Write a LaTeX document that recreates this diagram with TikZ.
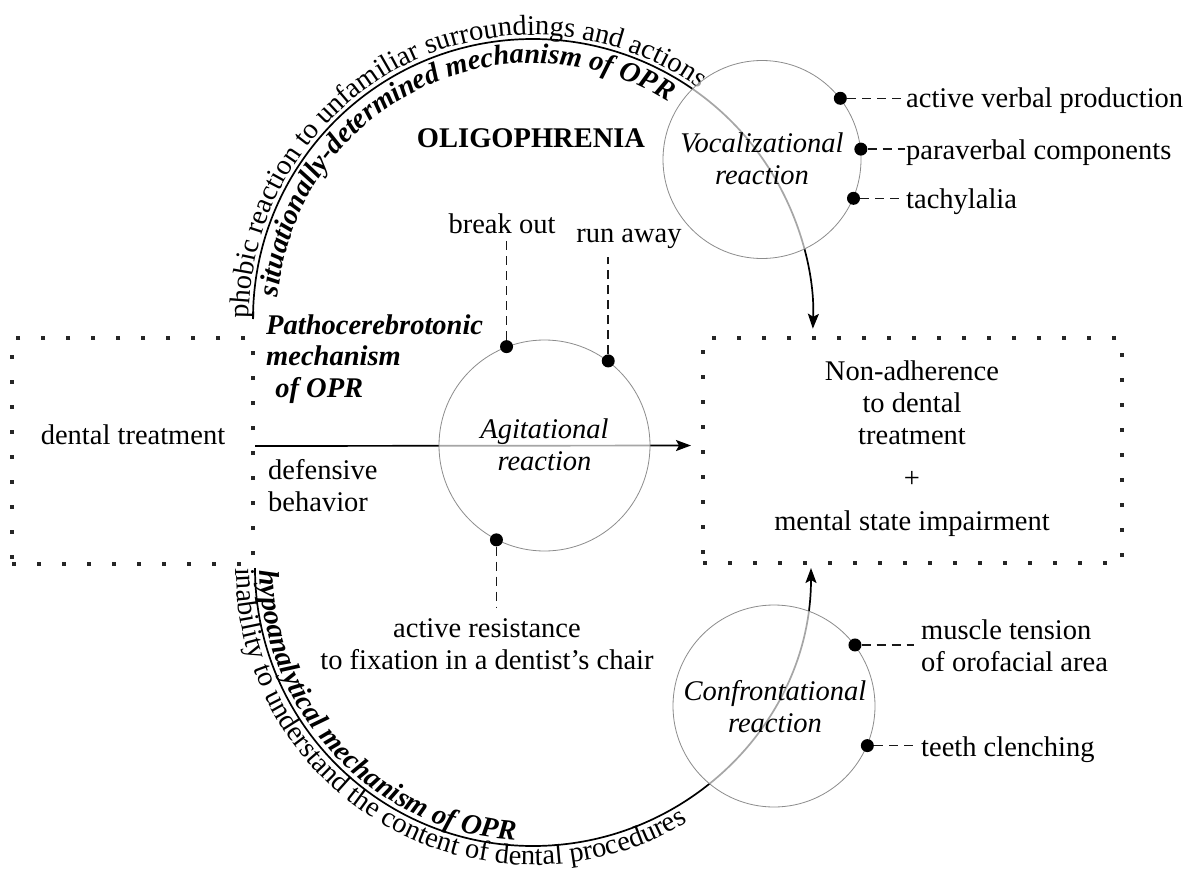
\documentclass[tikz,border=0pt]{standalone}
\usepackage{fontspec}
\setmainfont{Liberation Serif}
\usetikzlibrary{arrows.meta,decorations.text,calc}
\begin{document}
\begin{tikzpicture}[x=1pt,y=-1pt,
  lbl/.style={font=\fontsize{28.5}{32}\selectfont, inner sep=0pt, text=black},
  itlbl/.style={lbl, font=\fontsize{28.5}{32}\selectfont\itshape},
  bilbl/.style={lbl, font=\fontsize{28.5}{31.5}\selectfont\bfseries\itshape},
  dotbox/.style={draw=black!85, line width=4pt, dash pattern=on 4pt off 21pt, inner sep=0pt},
  react/.style={circle, draw=black!45, line width=0.8pt, fill=white, fill opacity=0.65, inner sep=0pt},
  pindot/.style={circle, fill=black, inner sep=0pt, minimum size=13pt},
  dashln/.style={black!90, line width=1.6pt, dash pattern=on 9pt off 6pt},
  flow/.style={black, line width=1.7pt, -{Stealth[length=15pt,width=11pt,inset=3pt]}},
]
\fill[white] (0,0) rectangle (1195,870);
\useasboundingbox (0,0) rectangle (1195,870);

% boxes
\node[dotbox, minimum width=241pt, minimum height=226pt] (lbox) at (132.5,451) {};
\node[dotbox, minimum width=419pt, minimum height=225pt] (rbox) at (912.5,450.5) {};

% coordinates for the arcs
\coordinate (topA) at (253,319);
\coordinate (botA) at (255,568);

% texts along the arcs
\path[decorate, decoration={text along path,
  text={|\fontsize{28.5}{30}\selectfont|phobic reaction to unfamiliar surroundings and actions}}]
  (249,319) arc[start angle=180, end angle=362, radius=284];
\path[decorate, decoration={text along path, text align={left indent=22pt},
  text={|\fontsize{28.5}{30}\selectfont\bfseries\itshape|situationally-determined mechanism of OPR}}]
  (277,319) arc[start angle=180, end angle=362, radius=256];
\path[decorate, decoration={text along path,
  text={|\fontsize{28.5}{30}\selectfont|inability to understand the content of dental procedures}}]
  (236,568) arc[start angle=180, end angle=0, radius=297];
\path[decorate, decoration={text along path, text align={left indent=2pt},
  text={|\fontsize{28.5}{30}\selectfont\bfseries\itshape|hypoanalytical mechanism of OPR}}]
  (260,568) arc[start angle=180, end angle=0, radius=273];

% arcs and main arrow
\draw[flow] (topA) arc[start angle=180, end angle=362, radius=280];
\draw[flow] (botA) arc[start angle=180, end angle=0, radius=278];
\draw[flow, shorten >=10pt] ([yshift=5pt]lbox.east) -- ([yshift=5pt]rbox.west);

% reaction circles
\node[react, minimum size=198pt] (voc) at (762,159.5) {};
\node[react, minimum size=211pt] (agi) at (544.5,445.5) {};
\node[react, minimum size=202pt] (con) at (774,706) {};

\node[itlbl, anchor=base, align=center] (voctxt) at (762,184) {Vocalizational\\reaction};
\node[itlbl, anchor=base, align=center] (agitxt) at (544.5,470) {Agitational\\reaction};
\node[itlbl, anchor=base, align=center] (contxt) at (775,732) {Confrontational\\reaction};

% other texts
\node[lbl, font=\fontsize{28.5}{32}\selectfont\bfseries, anchor=base] (olig) at (531,147) {OLIGOPHRENIA};
\node[bilbl, anchor=base west, align=left] (patho) at (266,397) {Pathocerebrotonic\\mechanism\\\hspace*{0.32em}of OPR};
\node[lbl, anchor=base] (dt) at (133,444) {dental treatment};
\node[lbl, anchor=base west, align=left] (def) at (268,511) {defensive\\behavior};
\node[lbl, anchor=base, align=center] (res) at (912,530) {Non-adherence\\to dental\\treatment\\[11pt]+\\[11pt]mental state impairment};
\node[lbl, anchor=base] (brk) at (502,233) {break out};
\node[lbl, anchor=base] (run) at (629,242) {run away};
\node[lbl, anchor=base, align=center] (act) at (487,669) {active resistance\\to fixation in a dentist’s chair};
\node[lbl, anchor=base west] (avp) at (906,107) {active verbal production};
\node[lbl, anchor=base west] (pvc) at (906,159) {paraverbal components};
\node[lbl, anchor=base west] (tach) at (906,208) {tachylalia};
\node[lbl, anchor=base west, align=left] (musc) at (921,671) {muscle tension\\of orofacial area};
\node[lbl, anchor=base west] (teeth) at (921,756) {teeth clenching};

% pins
\node[pindot] (a1) at (agi.111) {};
\node[pindot] (a2) at (agi.53) {};
\node[pindot] (a3) at (agi.243) {};
\node[pindot] (v1) at (voc.38) {};
\node[pindot] (v2) at (voc.6) {};
\node[pindot] (v3) at (voc.337) {};
\node[pindot] (c1) at (con.37) {};
\node[pindot] (c2) at (con.337) {};

% dashed leaders
\draw[dashln] (a1) -- ($(a1 |- brk.south)+(0,8)$);
\draw[dashln] (a2) -- ($(a2 |- run.south)+(0,9)$);
\draw[dashln] (a3) -- ($(a3 |- act.north)+(0,-11)$);
\draw[dashln, shorten >=3pt] (v1) -- (v1 -| avp.west);
\draw[dashln, shorten >=1pt] (v2) -- (v2 -| pvc.west);
\draw[dashln, shorten >=3pt] (v3) -- (v3 -| tach.west);
\draw[dashln, shorten >=7pt] (c1) -- (c1 -| musc.west);
\draw[dashln, shorten >=7pt] (c2) -- (c2 -| teeth.west);
\end{tikzpicture}
\end{document}
